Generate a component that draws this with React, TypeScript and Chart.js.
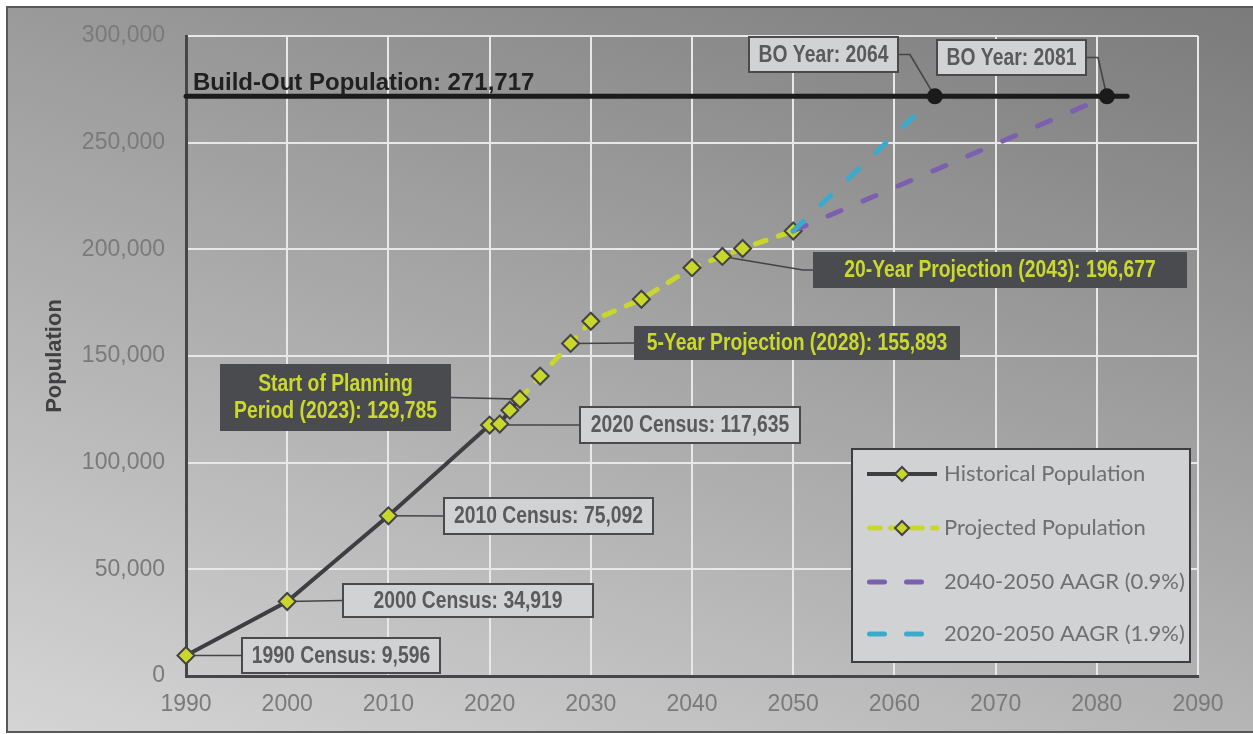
import React, { useEffect, useRef } from "react";
import { Chart, registerables } from "chart.js";

Chart.register(...registerables);

// ---------- data ----------
const historicalYears = [1990, 2000, 2010, 2020, 2021, 2022, 2023];
const historicalPop = [9596, 34919, 75092, 117635, 118100, 124600, 129785];

const projectedYears = [2023, 2025, 2028, 2030, 2035, 2040, 2043, 2045, 2050];
const projectedPop = [129785, 140600, 155893, 166300, 176600, 191400, 196677, 200400, 208600];

const aagr09Years = [2050, 2081];
const aagr09Pop = [208600, 271717];

const aagr19Years = [2050, 2064];
const aagr19Pop = [208600, 271717];

const buildOutYears = [1990, 2083];
const buildOutPop = [271717, 271717];

const boYears = [2064, 2081];
const boPop = [271717, 271717];

const xMin = 1990;
const xMax = 2090;
const xStep = 10;
const yMin = 0;
const yMax = 300000;
const yStep = 50000;

const seriesLabels = [
  "Historical Population",
  "Projected Population",
  "2040-2050 AAGR (0.9%)",
  "2020-2050 AAGR (1.9%)",
];

const buildOutLabel = "Build-Out Population: 271,717";
const yTitle = "Population";

// callouts: text + anchor data value
const calloutTexts = [
  ["1990 Census: 9,596"],
  ["2000 Census: 34,919"],
  ["2010 Census: 75,092"],
  ["2020 Census: 117,635"],
  ["Start of Planning", "Period (2023): 129,785"],
  ["5-Year Projection (2028): 155,893"],
  ["20-Year Projection (2043): 196,677"],
  ["BO Year: 2064"],
  ["BO Year: 2081"],
];
const calloutYears = [1990, 2000, 2010, 2020, 2023, 2028, 2043, 2064, 2081];
const calloutPops = [9596, 34919, 75092, 117635, 129785, 155893, 196677, 271717, 271717];

// layout only (pixels)
const calloutLayout = [
  { left: 242, top: 638, w: 198, h: 35, dark: false, side: "left", elbow: 0 },
  { left: 343, top: 584, w: 250, h: 33, dark: false, side: "left", elbow: 0 },
  { left: 444, top: 498, w: 209, h: 36, dark: false, side: "left", elbow: 0 },
  { left: 580, top: 407, w: 220, h: 36, dark: false, side: "left", elbow: 0 },
  { left: 220, top: 364, w: 231, h: 67, dark: true, side: "right", elbow: 0 },
  { left: 634, top: 326, w: 326, h: 34, dark: true, side: "left", elbow: 0 },
  { left: 813, top: 252, w: 374, h: 36, dark: true, side: "left", elbow: -10 },
  { left: 749, top: 37, w: 149, h: 35, dark: false, side: "right", elbow: 12 },
  { left: 937, top: 40, w: 149, h: 35, dark: false, side: "right", elbow: 12 },
];

const C = {
  hist: "#3e3e42",
  proj: "#c9d72c",
  marker: "#c9d72c",
  markerBorder: "#434346",
  purple: "#7c5fae",
  cyan: "#3aabcc",
  buildOut: "#1b1b1b",
  tick: "#7a7a7a",
  grid: "#e8e8e8",
  axis: "#46464a",
  lightBox: "#d1d2d4",
  lightBorder: "#4a4a4d",
  lightText: "#5a5a5c",
  darkBox: "#4a4b4f",
  darkText: "#cbd92e",
  legendText: "#6f6f6f",
};

const FONT = "'Liberation Sans', Arial, Helvetica, sans-serif";

const pts = (xs: number[], ys: number[]) => xs.map((x, i) => ({ x, y: ys[i] }));

const fmt = (v: number) => Number(v).toLocaleString("en-US");

function drawNarrowText(ctx: CanvasRenderingContext2D, text: string, cx: number, cy: number, sx: number) {
  ctx.save();
  ctx.translate(cx, cy);
  ctx.scale(sx, 1);
  ctx.fillText(text, 0, 0);
  ctx.restore();
}

const bgPlugin = {
  id: "bgPlugin",
  beforeDraw(chart: any) {
    const { ctx, width, height } = chart;
    ctx.save();
    ctx.fillStyle = "#ffffff";
    ctx.fillRect(0, 0, width, height);
    const g = ctx.createLinearGradient(1253, 0, 932, 1026);
    g.addColorStop(0, "#7a7a7a");
    g.addColorStop(1, "#d5d5d5");
    ctx.fillStyle = g;
    ctx.fillRect(7, 7, width, 726);
    ctx.strokeStyle = "#58585a";
    ctx.lineWidth = 2;
    ctx.strokeRect(7, 7, width + 10, 725);
    ctx.restore();
  },
};

const leaderPlugin = {
  id: "leaderPlugin",
  beforeDatasetsDraw(chart: any) {
    const { ctx } = chart;
    const xs = chart.scales.x;
    const ys = chart.scales.y;
    ctx.save();
    ctx.strokeStyle = "#444447";
    ctx.lineWidth = 1.6;
    calloutLayout.forEach((L, i) => {
      const px = xs.getPixelForValue(calloutYears[i]);
      const py = ys.getPixelForValue(calloutPops[i]);
      const ay = L.top + L.h / 2;
      const ax = L.side === "left" ? L.left : L.left + L.w;
      ctx.beginPath();
      ctx.moveTo(px, py);
      if (L.elbow !== 0) {
        ctx.lineTo(ax + L.elbow, ay);
      }
      ctx.lineTo(ax, ay);
      ctx.stroke();
    });
    ctx.restore();
  },
};

const calloutPlugin = {
  id: "calloutPlugin",
  afterDatasetsDraw(chart: any) {
    const { ctx } = chart;
    const ys = chart.scales.y;
    const xs = chart.scales.x;
    ctx.save();
    // build-out label
    ctx.font = `bold 24px ${FONT}`;
    ctx.fillStyle = "#202020";
    ctx.textAlign = "left";
    ctx.textBaseline = "alphabetic";
    ctx.fillText(buildOutLabel, xs.getPixelForValue(buildOutYears[0]) + 7, ys.getPixelForValue(buildOutPop[0]) - 6);

    calloutLayout.forEach((L, i) => {
      ctx.fillStyle = L.dark ? C.darkBox : C.lightBox;
      ctx.fillRect(L.left, L.top, L.w, L.h);
      if (!L.dark) {
        ctx.strokeStyle = C.lightBorder;
        ctx.lineWidth = 2;
        ctx.strokeRect(L.left, L.top, L.w, L.h);
      }
      ctx.fillStyle = L.dark ? C.darkText : C.lightText;
      ctx.font = `bold 23px ${FONT}`;
      ctx.textAlign = "center";
      ctx.textBaseline = "middle";
      const lines = calloutTexts[i];
      const lh = 27;
      const cy0 = L.top + L.h / 2 - ((lines.length - 1) * lh) / 2 + 1;
      lines.forEach((t, k) => {
        drawNarrowText(ctx, t, L.left + L.w / 2, cy0 + k * lh, 0.84);
      });
    });
    ctx.restore();
  },
};

function diamond(ctx: CanvasRenderingContext2D, x: number, y: number, r: number) {
  ctx.save();
  ctx.setLineDash([]);
  ctx.beginPath();
  ctx.moveTo(x, y - r);
  ctx.lineTo(x + r, y);
  ctx.lineTo(x, y + r);
  ctx.lineTo(x - r, y);
  ctx.closePath();
  ctx.fillStyle = C.marker;
  ctx.fill();
  ctx.strokeStyle = C.markerBorder;
  ctx.lineWidth = 2;
  ctx.lineJoin = "miter";
  ctx.stroke();
  ctx.restore();
}

const legendPlugin = {
  id: "legendPlugin",
  afterDraw(chart: any) {
    const { ctx } = chart;
    ctx.save();
    const bx = 852, by = 449, bw = 338, bh = 213;
    ctx.fillStyle = C.lightBox;
    ctx.fillRect(bx, by, bw, bh);
    ctx.strokeStyle = "#3d3d40";
    ctx.lineWidth = 2;
    ctx.strokeRect(bx, by, bw, bh);
    const rows = [474, 528, 582, 634];
    const x0 = 867, x1 = 937, xm = 902;
    // historical
    ctx.lineCap = "butt";
    ctx.strokeStyle = C.hist;
    ctx.lineWidth = 4;
    ctx.setLineDash([]);
    ctx.beginPath(); ctx.moveTo(x0, rows[0]); ctx.lineTo(x1, rows[0]); ctx.stroke();
    diamond(ctx, xm, rows[0], 7);
    // projected
    ctx.strokeStyle = C.proj;
    ctx.lineWidth = 5;
    ctx.lineCap = "round";
    ctx.setLineDash([11, 10]);
    ctx.beginPath(); ctx.moveTo(x0 + 2.5, rows[1]); ctx.lineTo(x1, rows[1]); ctx.stroke();
    diamond(ctx, xm, rows[1], 7);
    // purple
    ctx.lineWidth = 5;
    ctx.lineCap = "round";
    ctx.strokeStyle = C.purple;
    ctx.setLineDash([15, 22]);
    ctx.beginPath(); ctx.moveTo(x0 + 2.5, rows[2]); ctx.lineTo(x1, rows[2]); ctx.stroke();
    // cyan
    ctx.strokeStyle = C.cyan;
    ctx.beginPath(); ctx.moveTo(x0 + 2.5, rows[3]); ctx.lineTo(x1, rows[3]); ctx.stroke();
    ctx.setLineDash([]);
    ctx.fillStyle = C.legendText;
    ctx.font = "22px Lato, 'Open Sans', sans-serif";
    ctx.textAlign = "left";
    ctx.textBaseline = "middle";
    seriesLabels.forEach((t, i) => ctx.fillText(t, 944, rows[i]));

    // y title
    ctx.save();
    ctx.translate(55, chart.chartArea.top + (chart.chartArea.bottom - chart.chartArea.top) / 2);
    ctx.rotate(-Math.PI / 2);
    ctx.font = `bold 22px ${FONT}`;
    ctx.fillStyle = "#404042";
    ctx.textAlign = "center";
    ctx.textBaseline = "middle";
    ctx.fillText(yTitle, 0, 0);
    ctx.restore();
    ctx.restore();
  },
};

export default function App() {
  const ref = useRef<HTMLCanvasElement>(null);
  useEffect(() => {
    const canvas = ref.current!;
    const marker = {
      pointStyle: "rectRot" as const,
      pointRadius: 8.5,
      pointHoverRadius: 8.5,
      pointBackgroundColor: C.marker,
      pointBorderColor: C.markerBorder,
      pointBorderWidth: 2,
    };
    const chart = new Chart(canvas, {
      type: "line",
      data: {
        datasets: [
          {
            label: "BO",
            data: pts(boYears, boPop),
            showLine: false,
            pointRadius: 8,
            pointBackgroundColor: C.buildOut,
            pointBorderWidth: 0,
            order: 0,
            clip: false,
          } as any,
          {
            label: seriesLabels[3],
            data: pts(aagr19Years, aagr19Pop),
            borderColor: C.cyan,
            borderWidth: 5,
            borderDash: [14, 24],
            borderCapStyle: "round",
            pointRadius: 0,
            order: 1,
            clip: false,
          },
          {
            label: seriesLabels[2],
            data: pts(aagr09Years, aagr09Pop),
            borderColor: C.purple,
            borderWidth: 5,
            borderDash: [14, 24],
            borderCapStyle: "round",
            pointRadius: 0,
            order: 2,
            clip: false,
          },
          {
            label: seriesLabels[1],
            data: pts(projectedYears, projectedPop),
            borderColor: C.proj,
            borderWidth: 5,
            borderDash: [11, 13],
            borderCapStyle: "round",
            ...marker,
            order: 3,
            clip: false,
          },
          {
            label: seriesLabels[0],
            data: pts(historicalYears, historicalPop),
            borderColor: C.hist,
            borderWidth: 4,
            ...marker,
            order: 4,
            clip: false,
          },
          {
            label: "Build-Out",
            data: pts(buildOutYears, buildOutPop),
            borderColor: C.buildOut,
            borderWidth: 5,
            borderCapStyle: "round",
            pointRadius: 0,
            order: 5,
            clip: false,
          },
        ] as any,
      },
      options: {
        responsive: false,
        animation: false,
        devicePixelRatio: 1,
        layout: { padding: { top: 36, right: 55, bottom: 0, left: 0 } },
        plugins: { legend: { display: false }, tooltip: { enabled: false } },
        elements: { line: { tension: 0, fill: false } },
        scales: {
          x: {
            type: "linear",
            min: xMin,
            max: xMax,
            ticks: {
              stepSize: xStep,
              color: C.tick,
              font: { family: FONT, size: 23 },
              padding: 15,
              callback: (v: any) => String(v),
              maxRotation: 0,
            },
            grid: { color: C.grid, lineWidth: 2, drawTicks: false },
            border: { display: true, color: C.axis, width: 3 },
            afterFit: (s: any) => {
              s.height = 58;
            },
          },
          y: {
            type: "linear",
            min: yMin,
            max: yMax,
            ticks: {
              stepSize: yStep,
              color: C.tick,
              font: { family: FONT, size: 23 },
              padding: 21,
              callback: (v: any) => fmt(v),
            },
            grid: { color: C.grid, lineWidth: 2, drawTicks: false },
            border: { display: true, color: C.axis, width: 3 },
            afterFit: (s: any) => {
              s.width = 186;
            },
          },
        } as any,
      },
      plugins: [bgPlugin, leaderPlugin, calloutPlugin, legendPlugin],
    });
    return () => chart.destroy();
  }, []);
  return (
    <canvas
      ref={ref}
      width={1253}
      height={734}
      style={{ position: "fixed", left: 0, top: 0, width: 1253, height: 734, display: "block" }}
    />
  );
}
